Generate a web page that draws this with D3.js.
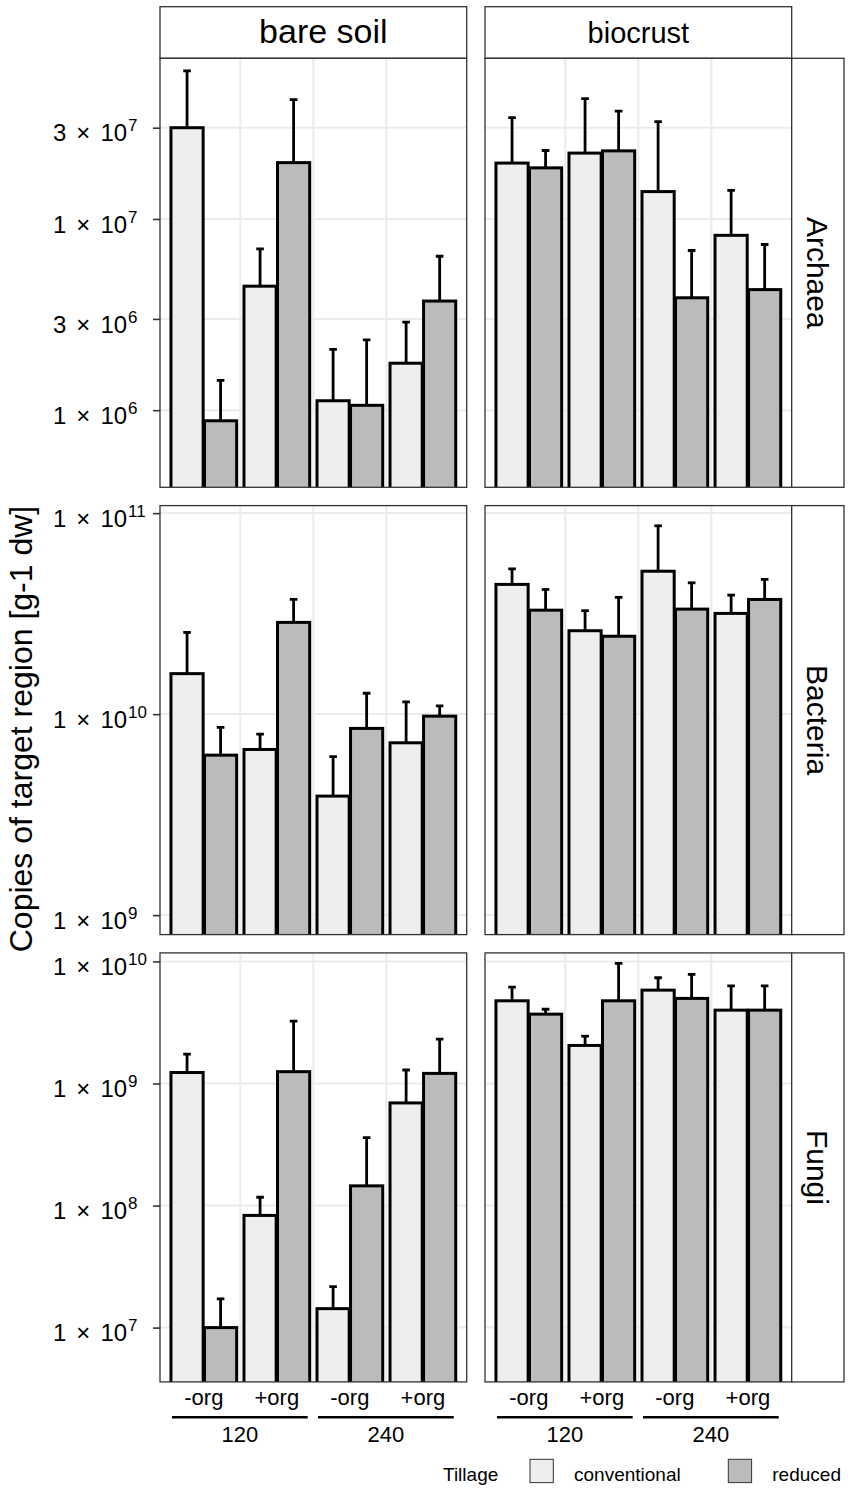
<!DOCTYPE html>
<html>
<head>
<meta charset="utf-8">
<script src="https://cdn.jsdelivr.net/npm/d3@7"></script>
<style>
body { margin: 0; background: #fff; }
text { font-family: "Liberation Sans", Arial, sans-serif; fill: #000; }
</style>
</head>
<body>
<svg id="chart" width="851" height="1497"></svg>
<script>
// facets and categories
var soils = ["bare soil", "biocrust"];
var taxa = ["Archaea", "Bacteria", "Fungi"];
var groups = ["120 -org", "120 +org", "240 -org", "240 +org"];
var groupLabels = ["-org", "+org", "-org", "+org"];
var nLevels = ["120", "240"];
var tillage = ["conventional", "reduced"];

// means, per group: conventional then reduced
var archaeaBare = [3.0e7, 8.8e5, 4.45e6, 1.97e7, 1.12e6, 1.06e6, 1.76e6, 3.72e6];
var archaeaBareUpper = [5.95e7, 1.43e6, 6.97e6, 4.21e7, 2.08e6, 2.33e6, 2.89e6, 6.38e6];
var archaeaCrust = [1.96e7, 1.85e7, 2.21e7, 2.27e7, 1.39e7, 3.87e6, 8.21e6, 4.27e6];
var archaeaCrustUpper = [3.39e7, 2.28e7, 4.26e7, 3.66e7, 3.23e7, 6.84e6, 1.41e7, 7.35e6];

var bacteriaBare = [1.59e10, 6.25e9, 6.67e9, 2.86e10, 3.91e9, 8.49e9, 7.2e9, 9.77e9];
var bacteriaBareUpper = [2.55e10, 8.59e9, 7.95e9, 3.72e10, 6.14e9, 1.27e10, 1.15e10, 1.1e10];
var bacteriaCrust = [4.42e10, 3.29e10, 2.6e10, 2.44e10, 5.14e10, 3.33e10, 3.17e10, 3.72e10];
var bacteriaCrustUpper = [5.28e10, 4.17e10, 3.27e10, 3.81e10, 8.65e10, 4.5e10, 3.91e10, 4.68e10];

var fungiBare = [1.23e9, 1.0e7, 8.3e7, 1.25e9, 1.43e7, 1.45e8, 6.93e8, 1.21e9];
var fungiBareUpper = [1.74e9, 1.72e7, 1.17e8, 3.24e9, 2.17e7, 3.6e8, 1.29e9, 2.31e9];
var fungiCrust = [4.76e9, 3.7e9, 2.05e9, 4.76e9, 5.82e9, 4.98e9, 3.99e9, 3.99e9];
var fungiCrustUpper = [6.17e9, 4.06e9, 2.44e9, 9.64e9, 7.35e9, 7.83e9, 6.31e9, 6.31e9];

// y ticks and limits per row
var archaeaTicks = [1e6, 3e6, 1e7, 3e7];
var bacteriaTicks = [1e9, 1e10, 1e11];
var fungiTicks = [1e7, 1e8, 1e9, 1e10];
var archaeaLimits = [3.95e5, 6.92e7];
var bacteriaLimits = [8.0e8, 1.09e11];
var fungiLimits = [3.59e6, 1.175e10];

var fills = { conventional: "#eeeeee", reduced: "#bbbbbb" };

// lookup table built from the arrays above
var table = {
    Archaea: { ticks: archaeaTicks, limits: archaeaLimits,
        "bare soil": [archaeaBare, archaeaBareUpper], biocrust: [archaeaCrust, archaeaCrustUpper] },
    Bacteria: { ticks: bacteriaTicks, limits: bacteriaLimits,
        "bare soil": [bacteriaBare, bacteriaBareUpper], biocrust: [bacteriaCrust, bacteriaCrustUpper] },
    Fungi: { ticks: fungiTicks, limits: fungiLimits,
        "bare soil": [fungiBare, fungiBareUpper], biocrust: [fungiCrust, fungiCrustUpper] }
};

var svg = d3.select("#chart");
var colX = { "bare soil": [160, 466.7], biocrust: [485, 791.7] };
var stripFont = { "bare soil": 34, biocrust: 29 };
var stripShift = { "bare soil": 10, biocrust: 0 };
var rowTop = [58.3, 505.6, 952.9];
var panelH = 429;
var stripTop = 6.7, stripRight = 844;

function rows(values, upper) {
    var out = [];
    groups.forEach(function (g, gi) {
        tillage.forEach(function (t, ti) {
            out.push({ group: g, till: t, mean: values[gi * 2 + ti], upper: upper[gi * 2 + ti] });
        });
    });
    return out;
}

// "m × 10^e" label, like plotmath
function addSci(sel, v) {
    var e = Math.floor(Math.log10(v) + 1e-9);
    var m = Math.round(v / Math.pow(10, e));
    sel.text(null);
    sel.append("tspan").text(m);
    sel.append("tspan").attr("dx", 10).text("\u00d7");
    sel.append("tspan").attr("dx", 10).text("10");
    sel.append("tspan").attr("dx", 1).attr("dy", -10).attr("font-size", 17).text(e);
}

// top strips
soils.forEach(function (s) {
    var xr = colX[s];
    svg.append("rect")
        .attr("x", xr[0]).attr("y", stripTop)
        .attr("width", xr[1] - xr[0]).attr("height", rowTop[0] - stripTop)
        .attr("fill", "#fff").attr("stroke", "#333").attr("stroke-width", 1.3);
    svg.append("text")
        .attr("x", (xr[0] + xr[1]) / 2 + stripShift[s]).attr("y", 43)
        .attr("text-anchor", "middle").attr("font-size", stripFont[s])
        .text(s);
});

taxa.forEach(function (taxon, ri) {
    var top = rowTop[ri];
    var info = table[taxon];
    var y = d3.scaleLog().domain(info.limits).range([top + panelH, top]);

    soils.forEach(function (s, ci) {
        var xr = colX[s];
        var x = d3.scaleBand().domain(groups).range(xr).paddingInner(0.1).paddingOuter(0.15);
        var xt = d3.scaleBand().domain(tillage).range([0, x.bandwidth()]).paddingInner(0.04);
        var data = rows(info[s][0], info[s][1]);
        var clipId = "clip" + ri + ci;

        svg.append("clipPath").attr("id", clipId)
            .append("rect")
            .attr("x", xr[0]).attr("y", top)
            .attr("width", xr[1] - xr[0]).attr("height", panelH);

        var g = svg.append("g").attr("clip-path", "url(#" + clipId + ")");

        g.append("rect")
            .attr("x", xr[0]).attr("y", top)
            .attr("width", xr[1] - xr[0]).attr("height", panelH)
            .attr("fill", "#fff");

        // grid
        g.selectAll(".hgrid").data(info.ticks).enter()
            .append("line")
            .attr("x1", xr[0]).attr("x2", xr[1])
            .attr("y1", function (d) { return y(d); })
            .attr("y2", function (d) { return y(d); })
            .attr("stroke", "#ebebeb").attr("stroke-width", 2);
        g.selectAll(".vgrid").data(groups.slice(1)).enter()
            .append("line")
            .attr("x1", function (d) { return x(d) - x.step() * x.paddingInner() / 2; })
            .attr("x2", function (d) { return x(d) - x.step() * x.paddingInner() / 2; })
            .attr("y1", top).attr("y2", top + panelH)
            .attr("stroke", "#ebebeb").attr("stroke-width", 2);

        // error bars
        var cx = function (d) { return x(d.group) + xt(d.till) + xt.bandwidth() / 2; };
        g.selectAll(".err").data(data).enter()
            .append("line")
            .attr("x1", cx).attr("x2", cx)
            .attr("y1", function (d) { return y(d.mean); })
            .attr("y2", function (d) { return y(d.upper); })
            .attr("stroke", "#000").attr("stroke-width", 2.8);
        g.selectAll(".cap").data(data).enter()
            .append("line")
            .attr("x1", function (d) { return cx(d) - 3.8; })
            .attr("x2", function (d) { return cx(d) + 3.8; })
            .attr("y1", function (d) { return y(d.upper); })
            .attr("y2", function (d) { return y(d.upper); })
            .attr("stroke", "#000").attr("stroke-width", 2.8);

        // bars
        g.selectAll(".bar").data(data).enter()
            .append("rect")
            .attr("x", function (d) { return x(d.group) + xt(d.till); })
            .attr("width", xt.bandwidth())
            .attr("y", function (d) { return y(d.mean); })
            .attr("height", function (d) { return top + panelH + 5 - y(d.mean); })
            .attr("fill", function (d) { return fills[d.till]; })
            .attr("stroke", "#000").attr("stroke-width", 3);

        svg.append("rect")
            .attr("x", xr[0]).attr("y", top)
            .attr("width", xr[1] - xr[0]).attr("height", panelH)
            .attr("fill", "none").attr("stroke", "#333").attr("stroke-width", 1.3);

        if (ci === 0) {
            var ax = svg.append("g")
                .attr("transform", "translate(" + xr[0] + ",0)")
                .call(d3.axisLeft(y).tickValues(info.ticks).tickSize(7));
            ax.select(".domain").remove();
            ax.selectAll(".tick line").attr("stroke", "#333").attr("stroke-width", 1.6);
            ax.selectAll(".tick text")
                .attr("font-size", 24).attr("font-family", null).attr("fill", "#000")
                .attr("text-anchor", "start").attr("x", 53 - xr[0])
                .attr("dy", "0.55em")
                .each(function (d) { addSci(d3.select(this), d); });
        }

        if (ri === taxa.length - 1) {
            var lab = svg.append("g");
            lab.selectAll("text").data(groups).enter()
                .append("text")
                .attr("x", function (d) { return x(d) + x.bandwidth() / 2; })
                .attr("y", 1405)
                .attr("text-anchor", "middle").attr("font-size", 22)
                .text(function (d, i) { return groupLabels[i]; });
            nLevels.forEach(function (n, ni) {
                var a = groups[ni * 2], b = groups[ni * 2 + 1];
                var x1 = x(a) + 1, x2 = x(b) + x.bandwidth() - 2;
                lab.append("line")
                    .attr("x1", x1).attr("x2", x2)
                    .attr("y1", 1417.3).attr("y2", 1417.3)
                    .attr("stroke", "#000").attr("stroke-width", 2.4);
                lab.append("text")
                    .attr("x", (x1 + x2) / 2).attr("y", 1441.7)
                    .attr("text-anchor", "middle").attr("font-size", 22)
                    .text(n);
            });
        }
    });

    // right strip
    var sx = colX.biocrust[1];
    svg.append("rect")
        .attr("x", sx).attr("y", top)
        .attr("width", stripRight - sx).attr("height", panelH)
        .attr("fill", "#fff").attr("stroke", "#333").attr("stroke-width", 1.3);
    svg.append("text")
        .attr("transform", "translate(807," + (top + panelH / 2) + ") rotate(90)")
        .attr("text-anchor", "middle").attr("font-size", 30)
        .text(taxon);
});

// y title
svg.append("text")
    .attr("transform", "translate(31.5,729) rotate(-90)")
    .attr("text-anchor", "middle").attr("font-size", 32)
    .text("Copies of target region [g-1 dw]");

// legend
var leg = svg.append("g");
leg.append("text").attr("x", 443).attr("y", 1481).attr("font-size", 19).text("Tillage");
var keyX = [530, 728.3];
tillage.forEach(function (t, i) {
    leg.append("rect")
        .attr("x", keyX[i]).attr("y", 1459.3)
        .attr("width", 23.3).attr("height", 23.3)
        .attr("fill", fills[t]).attr("stroke", "#333").attr("stroke-width", 1);
    leg.append("text")
        .attr("x", keyX[i] + 44).attr("y", 1481)
        .attr("font-size", 19)
        .text(t);
});
</script>
</body>
</html>
